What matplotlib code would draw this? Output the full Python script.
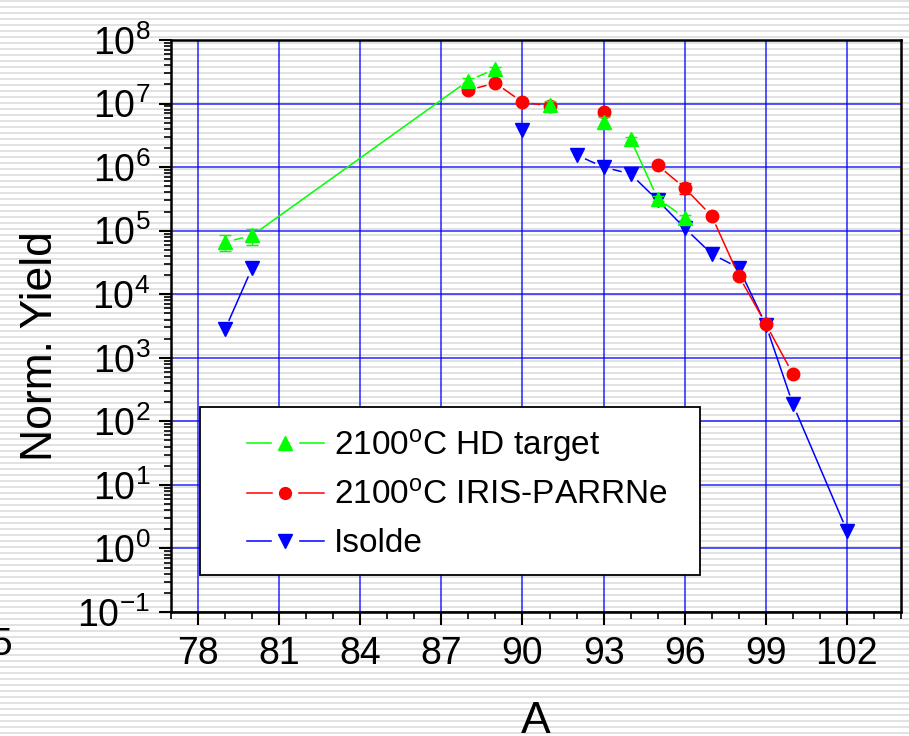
import numpy as np
import matplotlib
matplotlib.use('Agg')
import matplotlib.pyplot as plt
from matplotlib.lines import Line2D
from matplotlib.patches import Rectangle
from matplotlib.legend_handler import HandlerTuple
from matplotlib.ticker import MultipleLocator, LogLocator, NullFormatter

plt.rcParams['font.family'] = ['Liberation Sans', 'DejaVu Sans']
plt.rcParams['mathtext.fontset'] = 'custom'
plt.rcParams['mathtext.rm'] = 'Liberation Sans'
plt.rcParams['mathtext.it'] = 'Liberation Sans:italic'
plt.rcParams['axes.unicode_minus'] = False

# data; run = which connected line segment a point belongs to
A_hd = [79, 80, 88, 89, 91, 93, 94, 95, 96]
Y_hd = [6.6e4, 8.4e4, 2.3e7, 3.5e7, 9.6e6, 5.1e6, 2.75e6, 3.2e5, 1.6e5]
E_hd = [1.8e4, 2.4e4, 2.3e6, 2.8e6, 1.4e6, 1.0e6, 2.5e5, 3.0e4, 1.5e4]
run_hd = [0, 0, 0, 0, 1, 2, 3, 3, 3]

A_iris = [88, 89, 90, 91, 93, 95, 96, 97, 98, 99, 100]
Y_iris = [1.63e7, 2.1e7, 1.05e7, 9.2e6, 7.4e6, 1.07e6, 4.7e5, 1.7e5, 1.95e4, 3.4e3, 556]
E_iris = [1.6e6, 1.5e6, 8e5, 9e5, 7e5, 8e4, 9e4, 1.2e4, 1.5e3, 2.5e2, 40]
run_iris = [0, 0, 0, 0, 1, 2, 2, 2, 2, 2, 2]

A_iso = [79, 80, 90, 92, 93, 94, 95, 96, 97, 98, 99, 100, 102]
Y_iso = [2.8e3, 2.6e4, 3.8e6, 1.55e6, 1.0e6, 7.8e5, 3.0e5, 1.1e5, 4.3e4, 2.6e4, 3.3e3, 186, 1.9]
run_iso = [0, 0, 1, 2, 2, 2, 2, 2, 2, 2, 2, 2, 2]

labels = [r'2100$^{\mathrm{o}}$C HD target', r'2100$^{\mathrm{o}}$C IRIS-PARRNe', 'Isolde']
colors = ['#00ff00', '#ff0000', '#0000ff']

W, H = 909, 736
fig = plt.figure(figsize=(W / 100, H / 100), dpi=100)

# striped slide background
rows = np.where(np.arange(H) % 6 < 2, 0.89, 1.0)
stripes = np.repeat(np.tile(rows[:, None], (1, W))[:, :, None], 3, axis=2)
fig.figimage(stripes, xo=0, yo=0, origin='upper', zorder=-10)

ax = fig.add_axes([171 / W, 1 - 612 / H, 730 / W, 572 / H])
ax.set_facecolor('none')
ax.set_yscale('log')
ax.set_xlim(77, 104)
ax.set_ylim(1e-1, 1e8)


def draw_series(x, y, err, run, color, marker, ms, z, gap=10):
    # Origin-style: connecting lines stop a few pixels short of each marker
    x, y, run = np.array(x, float), np.array(y, float), np.array(run)
    pts = ax.transData.transform(np.column_stack([x, y]))
    inv = ax.transData.inverted()
    for i in range(len(x) - 1):
        if run[i] != run[i + 1]:
            continue
        p0, p1 = pts[i], pts[i + 1]
        d = p1 - p0
        L = np.hypot(*d)
        if L <= 2 * gap:
            continue
        u = d / L
        seg = inv.transform(np.array([p0 + u * gap, p1 - u * gap]))
        ax.plot(seg[:, 0], seg[:, 1], '-', color=color, lw=1.1, zorder=z)
    ax.errorbar(x, y, yerr=err, fmt=marker, color=color, ms=ms, capsize=4.5,
                elinewidth=1, zorder=z)


draw_series(A_iso, Y_iso, None, run_iso, colors[2], 'v', 10, 3)
draw_series(A_iris, Y_iris, E_iris, run_iris, colors[1], 'o', 9, 4)
draw_series(A_hd, Y_hd, E_hd, run_hd, colors[0], '^', 10, 5)

ax.xaxis.set_major_locator(MultipleLocator(3))
ax.xaxis.set_minor_locator(MultipleLocator(1))
ax.yaxis.set_major_locator(LogLocator(base=10, numticks=20))
ax.yaxis.set_minor_locator(LogLocator(base=10, subs=np.arange(2, 10), numticks=20))
ax.yaxis.set_minor_formatter(NullFormatter())

ax.grid(True, which='major', color='#0000ff', lw=1.1, alpha=0.85, zorder=1)
ax.set_axisbelow(True)
for s in ax.spines.values():
    s.set_linewidth(1.8)
ax.tick_params(which='major', direction='out', length=9, width=1.5, labelsize=27,
               top=False, right=False)
ax.tick_params(which='minor', direction='out', length=5, width=1.2, top=False, right=False)
ax.tick_params(axis='x', pad=8)
ax.tick_params(axis='y', pad=6)

ax.set_xlabel('A', fontsize=32)
ax.xaxis.set_label_coords(0.5, -0.155)
ax.set_ylabel('Norm. Yield', fontsize=32)
ax.yaxis.set_label_coords(-0.151, 0.465)

# legend box
px = lambda v: (v - 171) / 730
py = lambda v: (612 - v) / 572
ax.add_patch(Rectangle((px(200), py(575)), px(700) - px(200), py(407) - py(575),
                       transform=ax.transAxes, facecolor='white', edgecolor='black',
                       lw=1.3, zorder=6))

# legend entries, line broken around the marker
mk = ['^', 'o', 'v']
gap = [19, 17, 19]
size = [10, 8.5, 10]
handles = []
for c, m, g, s in zip(colors, mk, gap, size):
    ln = Line2D([], [], color=c, lw=1.1)
    wm = Line2D([], [], ls='none', marker='s', ms=g, color='white')
    cm = Line2D([], [], ls='none', marker=m, ms=s, color=c)
    handles.append((ln, wm, cm))
leg = ax.legend(handles, labels, handler_map={tuple: HandlerTuple(ndivide=1)},
                loc='upper left', bbox_to_anchor=(px(247), py(427)),
                fontsize=24, frameon=False, borderpad=0, handlelength=2.3,
                handletextpad=0.3, labelspacing=0.5, borderaxespad=0)
leg.set_zorder(7)

fig.text(12 / W, 1 - 655 / H, '5', fontsize=28, ha='right', va='baseline')

fig.savefig('out.png', dpi=100)
